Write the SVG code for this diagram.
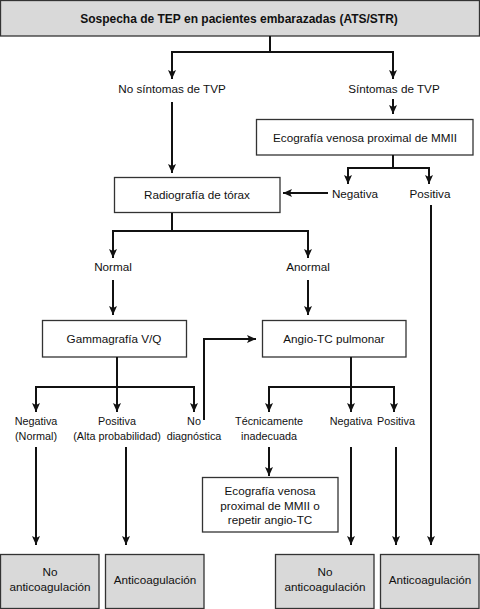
<svg xmlns="http://www.w3.org/2000/svg" width="480" height="609" viewBox="0 0 480 609">
<style>
.box{fill:#fff;stroke:#333;stroke-width:1.3}
.gbox{fill:#d9d9d9;stroke:#333;stroke-width:1.3}
text{font-family:"Liberation Sans",Arial,sans-serif;font-size:11.7px;fill:#111;text-anchor:middle}
.b{font-weight:bold;font-size:12px}
.s{font-size:10.8px}
.c{fill:none;stroke:#111;stroke-width:2}
.a{marker-end:url(#ah)}
</style>
<defs>
<marker id="ah" markerUnits="userSpaceOnUse" markerWidth="10" markerHeight="10" viewBox="0 0 10 10" refX="9" refY="5" orient="auto">
<path d="M0,1 L9,5 L0,9 L2,5 Z" fill="#111"/>
</marker>
</defs>
<rect width="480" height="609" fill="#fff"/>
<g id="n-top"><rect class="gbox" x="0.5" y="0.5" width="479" height="35.5"/><text class="b" x="239" y="23">Sospecha de TEP en pacientes embarazadas (ATS/STR)</text></g>
<g id="l-nosint"><text x="172" y="93">No síntomas de TVP</text></g>
<g id="l-sint"><text x="394" y="93">Síntomas de TVP</text></g>
<g id="n-eco"><rect class="box" x="256.5" y="119.5" width="216.5" height="35.5"/><text x="365" y="141.5">Ecografía venosa proximal de MMII</text></g>
<g id="n-rx"><rect class="box" x="114.5" y="177.5" width="165.5" height="35"/><text x="197" y="199">Radiografía de tórax</text></g>
<g id="l-neg1"><text x="355" y="197.5">Negativa</text></g>
<g id="l-pos1"><text x="430" y="197.5">Positiva</text></g>
<g id="l-normal"><text x="113" y="271">Normal</text></g>
<g id="l-anormal"><text x="308" y="271">Anormal</text></g>
<g id="n-gamma"><rect class="box" x="42.5" y="320.5" width="144" height="36.5"/><text x="114" y="343">Gammagrafía V/Q</text></g>
<g id="n-angio"><rect class="box" x="262.5" y="320.5" width="143.5" height="36.5"/><text x="334" y="343">Angio-TC pulmonar</text></g>
<g id="l-neg2"><text class="s" x="36" y="425">Negativa</text><text class="s" x="36" y="440">(Normal)</text></g>
<g id="l-pos2"><text class="s" x="117" y="425">Positiva</text><text class="s" x="117" y="440">(Alta probabilidad)</text></g>
<g id="l-nodiag"><text class="s" x="194" y="425">No</text><text class="s" x="194" y="440">diagnóstica</text></g>
<g id="l-tec"><text class="s" x="269" y="425">Técnicamente</text><text class="s" x="269" y="440">inadecuada</text></g>
<g id="l-neg3"><text class="s" x="351" y="425">Negativa</text></g>
<g id="l-pos3"><text class="s" x="396" y="425">Positiva</text></g>
<g id="n-eco2"><rect class="box" x="202.5" y="477.5" width="135.5" height="54.5"/><text x="270" y="495">Ecografía venosa</text><text x="270" y="509.5">proximal de MMII o</text><text x="270" y="524">repetir angio-TC</text></g>
<g id="n-noac1"><rect class="gbox" x="0.5" y="554.5" width="98.5" height="54"/><text x="50" y="576">No</text><text x="50" y="591">anticoagulación</text></g>
<g id="n-ac1"><rect class="gbox" x="105.5" y="554.5" width="98.5" height="54"/><text x="155" y="584">Anticoagulación</text></g>
<g id="n-noac2"><rect class="gbox" x="275.5" y="554.5" width="98.5" height="54"/><text x="325" y="576">No</text><text x="325" y="591">anticoagulación</text></g>
<g id="n-ac2"><rect class="gbox" x="380.5" y="554.5" width="98.5" height="54"/><text x="430" y="584">Anticoagulación</text></g>
<g id="connectors">
<path class="c" d="M270,36 V52 M172,52 H393"/>
<path class="c a" d="M172,51 V79"/>
<path class="c a" d="M393,51 V79"/>
<path class="c a" d="M393,99 V114"/>
<path class="c a" d="M172,102 V173"/>
<path class="c" d="M393,155 V168 M348,168 H430"/>
<path class="c a" d="M348,167 V184"/>
<path class="c a" d="M429,167 V184"/>
<path class="c a" d="M328,193 H283"/>
<path class="c a" d="M431,205 V545"/>
<path class="c" d="M172,213 V231 M113,231 H308"/>
<path class="c a" d="M113,230 V258"/>
<path class="c a" d="M308,230 V258"/>
<path class="c a" d="M113,280 V315"/>
<path class="c a" d="M308,280 V315"/>
<path class="c a" d="M204,420 V339 H256"/>
<path class="c" d="M117,357 V387 M36,387 H194"/>
<path class="c a" d="M36,386 V412"/>
<path class="c a" d="M117,386 V412"/>
<path class="c a" d="M194,386 V412"/>
<path class="c" d="M351,357 V387 M269,387 H394"/>
<path class="c a" d="M269,386 V412"/>
<path class="c a" d="M351,386 V412"/>
<path class="c a" d="M394,386 V412"/>
<path class="c a" d="M269,447 V476"/>
<path class="c a" d="M36,447 V545"/>
<path class="c a" d="M126,447 V545"/>
<path class="c a" d="M351,447 V545"/>
<path class="c a" d="M396,447 V545"/>
</g>
</svg>
